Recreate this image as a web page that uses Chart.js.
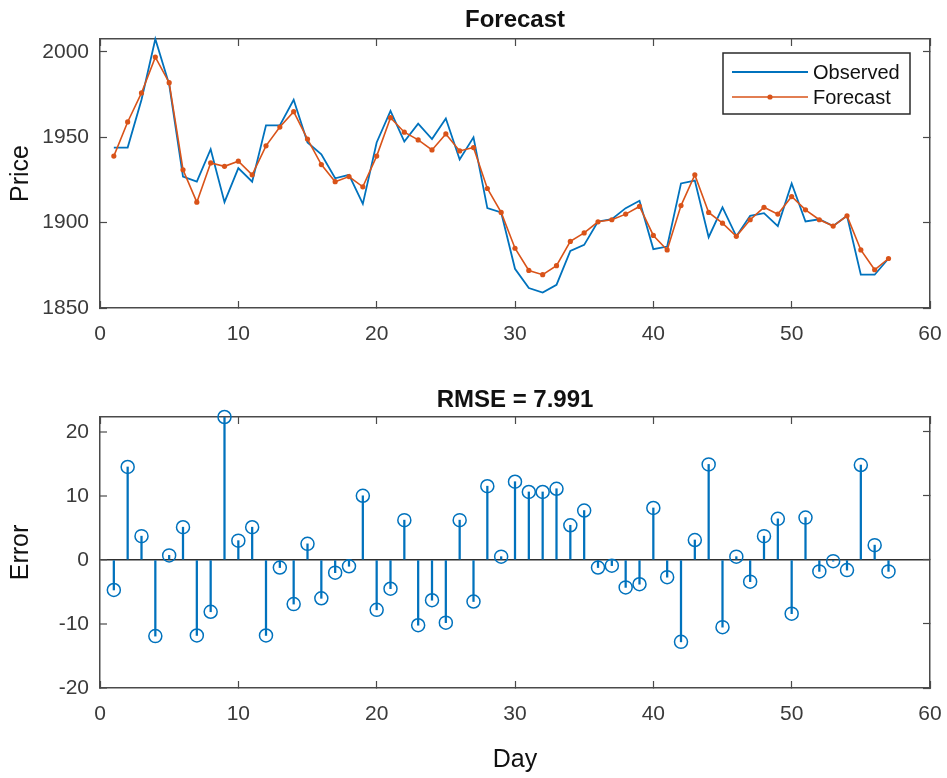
<!DOCTYPE html>
<html><head><meta charset="utf-8">
<script src="https://cdn.jsdelivr.net/npm/chart.js@4/dist/chart.umd.min.js"></script>
<style>
html,body{margin:0;padding:0;background:#fff;}
#wrap{position:relative;width:947px;height:778px;overflow:hidden;}
canvas{position:absolute;left:0;}
</style></head><body>
<div id="wrap">
<canvas id="c1" width="947" height="370" style="top:0px"></canvas>
<canvas id="c2" width="947" height="408" style="top:370px"></canvas>
</div>
<script>
// ---------- data ----------
const days = [1,2,3,4,5,6,7,8,9,10,11,12,13,14,15,16,17,18,19,20,21,22,23,24,25,26,27,28,29,30,
  31,32,33,34,35,36,37,38,39,40,41,42,43,44,45,46,47,48,49,50,51,52,53,54,55,56,57];
const observed = [1944,1944,1972,2007.6,1981,1927,1924,1943,1912,1932,
  1924,1957,1957,1972,1947,1940,1926,1928,1911,1947,
  1965.5,1947.5,1958,1949,1961,1937,1950,1908.5,1906,1873,
  1861.7,1859,1863.6,1883.5,1887,1900.7,1902,1908.5,1912.8,1884.5,
  1886,1923,1924.7,1891.5,1909,1892,1904,1905.6,1898,1923,
  1900.7,1902,1898,1904,1869.5,1869.5,1879];
const forecast = [1939,1959,1976,1997,1982,1931,1912,1935,1933,1936,
  1928,1945,1956,1965,1949,1934,1924,1927,1921,1939,
  1961.5,1953,1948.5,1942.6,1952,1942,1944,1920,1906,1885,
  1872,1869.5,1874.8,1889,1894,1900.5,1901.7,1905,1909.5,1892.5,
  1884,1910,1928,1906,1899.7,1892,1901.7,1909,1905,1915.3,
  1907.5,1901.7,1898,1904,1884,1872.4,1879];
const errors = [-4.7,14.5,3.7,-11.9,0.7,5.1,-11.8,-8.1,22.3,3.0,
  5.1,-11.8,-1.2,-6.9,2.5,-6.0,-2.0,-1.0,10.0,-7.8,
  -4.5,6.2,-10.2,-6.3,-9.8,6.2,-6.5,11.5,0.5,12.2,
  10.6,10.6,11.1,5.4,7.7,-1.2,-0.9,-4.3,-3.8,8.1,
  -2.7,-12.8,3.1,14.9,-10.5,0.5,-3.4,3.7,6.4,-8.4,
  6.6,-1.8,-0.2,-1.6,14.8,2.3,-1.8];
const dayTicks = [0,10,20,30,40,50,60];
const priceTicks = [1850,1900,1950,2000];
const errorTicks = [-20,-10,0,10,20];
const dayRange = [0,60];
const priceRange = [1850,2007.6];
const errorRange = [-20,22.3];
const topTitle = 'Forecast';
const bottomTitle = 'RMSE = 7.991';
const seriesNames = ['Observed','Forecast'];

// ---------- styling ----------
const BLUE = '#0072BD', ORANGE = '#D95319', AX = '#4a4a4a';
const FONT = "'Liberation Sans', Arial, Helvetica, sans-serif";
Chart.defaults.font.family = FONT;
Chart.defaults.color = '#3a3a3a';

const setTicks = arr => s => { s.ticks = arr.map(v => ({value: v})); };
const fixW = w => s => { s.width = w; s.paddingTop = 0; s.paddingBottom = 0; };
const fixH = h => s => { s.height = h; s.paddingLeft = 0; s.paddingRight = 0; };
const fmt = v => String(v);
const innerGrid = () => ({drawOnChartArea:false, drawTicks:true, tickLength:-7, tickColor:AX, tickWidth:1.2});
const border = () => ({display:true, color:AX, width:1.5});

function scalesFor(xr, yr, yt, yTitle, title, xHeight, xTitle, yGrid) {
  return {
    x: {type:'linear', position:'bottom', min:xr[0], max:xr[1], offset:false,
        afterBuildTicks:setTicks(dayTicks), afterFit:fixH(xHeight),
        ticks:{font:{size:21}, padding:21, maxRotation:0, autoSkip:false, callback:fmt},
        grid:Object.assign(innerGrid(), {offset:false}), border:border(),
        title: xTitle ? {display:true, text:xTitle, font:{size:25}, color:'#111', padding:{top:0,bottom:3}} : {display:false}},
    x2: {type:'linear', position:'top', min:xr[0], max:xr[1], offset:false,
        afterBuildTicks:setTicks(dayTicks), afterFit:fixH(title.h),
        ticks:{display:false}, grid:Object.assign(innerGrid(), {offset:false}), border:border(),
        title:{display:true, text:title.text, font:{size:24, weight:'bold'}, color:'#111', padding:{top:title.pad,bottom:0}}},
    y: {type:'linear', position:'left', min:yr[0], max:yr[1],
        afterBuildTicks:setTicks(yt), afterFit:fixW(100),
        ticks:{font:{size:21}, padding:18, callback:fmt},
        grid: yGrid || innerGrid(), border:border(),
        title:{display:true, text:yTitle, font:{size:25}, color:'#111', padding:{top:6.5,bottom:0}}},
    y2: {type:'linear', position:'right', min:yr[0], max:yr[1],
        afterBuildTicks:setTicks(yt), afterFit:fixW(0),
        ticks:{display:false}, grid:innerGrid(), border:border()}
  };
}

// legend box drawn inside the plot area
const boxLegend = {
  id: 'boxLegend',
  afterDatasetsDraw(chart, args, o) {
    if (!o || !o.show) return;
    const ctx = chart.ctx, a = chart.chartArea;
    const w = 187, h = 61;
    const x0 = a.right - 20 - w, y0 = a.top + 14;
    ctx.save();
    ctx.fillStyle = '#fff';
    ctx.fillRect(x0, y0, w, h);
    ctx.strokeStyle = '#2a2a2a';
    ctx.lineWidth = 1.5;
    ctx.strokeRect(x0, y0, w, h);
    ctx.font = '20px ' + FONT;
    ctx.textBaseline = 'middle';
    ctx.textAlign = 'left';
    chart.data.datasets.forEach((ds, i) => {
      const y = y0 + 19 + i * 25;
      ctx.strokeStyle = ds.borderColor;
      ctx.lineWidth = ds.borderWidth;
      ctx.beginPath(); ctx.moveTo(x0 + 9, y); ctx.lineTo(x0 + 85, y); ctx.stroke();
      if (ds.pointRadius > 0) {
        ctx.fillStyle = ds.borderColor;
        ctx.beginPath(); ctx.arc(x0 + 47, y, ds.pointRadius, 0, Math.PI * 2); ctx.fill();
      }
      ctx.fillStyle = '#111';
      ctx.fillText(ds.label, x0 + 90, y + 1);
    });
    ctx.restore();
  }
};

const pts = vals => days.map((d, i) => ({x: d, y: vals[i]}));

new Chart(document.getElementById('c1'), {
  type: 'line',
  data: {datasets: [
    {label: seriesNames[0], data: pts(observed), borderColor: BLUE, backgroundColor: BLUE,
     borderWidth: 1.8, pointRadius: 0, pointHoverRadius: 0, tension: 0, order: 1, clip: false},
    {label: seriesNames[1], data: pts(forecast), borderColor: ORANGE, backgroundColor: ORANGE,
     borderWidth: 1.6, pointRadius: 2.6, pointBorderWidth: 0, pointHoverRadius: 2.6, tension: 0, order: 0, clip: false}
  ]},
  options: {
    responsive: false, animation: false, devicePixelRatio: 1,
    layout: {padding: {left: 0, right: 17, top: 0, bottom: 0}},
    plugins: {legend: {display: false}, tooltip: {enabled: false}, boxLegend: {show: true}},
    scales: scalesFor(dayRange, priceRange, priceTicks, 'Price', {text: topTitle, h: 39, pad: 5.6}, 62, null, null)
  },
  plugins: [boxLegend]
});

const zeroGrid = {
  drawOnChartArea: true, drawTicks: true, tickLength: -7, tickColor: AX, tickWidth: 1.2,
  color: c => (c.tick && c.tick.value === 0) ? '#2f2f2f' : 'rgba(0,0,0,0)',
  lineWidth: c => (c.tick && c.tick.value === 0) ? 1.5 : 0
};

new Chart(document.getElementById('c2'), {
  type: 'bar',
  data: {datasets: [
    {type: 'bar', label: 'Error', data: pts(errors), backgroundColor: BLUE, borderWidth: 0,
     barThickness: 1.6, order: 1},
    {type: 'line', label: 'Error', data: pts(errors), showLine: false, pointRadius: 6.5,
     pointHoverRadius: 6.5, pointBorderWidth: 1.5, pointBorderColor: BLUE, borderColor: BLUE,
     pointBackgroundColor: 'rgba(0,0,0,0)', backgroundColor: 'rgba(0,0,0,0)', order: 0, clip: false}
  ]},
  options: {
    responsive: false, animation: false, devicePixelRatio: 1,
    layout: {padding: {left: 0, right: 17, top: 0, bottom: 0}},
    plugins: {legend: {display: false}, tooltip: {enabled: false}},
    scales: scalesFor(dayRange, errorRange, errorTicks, 'Error', {text: bottomTitle, h: 47, pad: 15.6}, 90, 'Day', zeroGrid)
  }
});
</script>
</body></html>
